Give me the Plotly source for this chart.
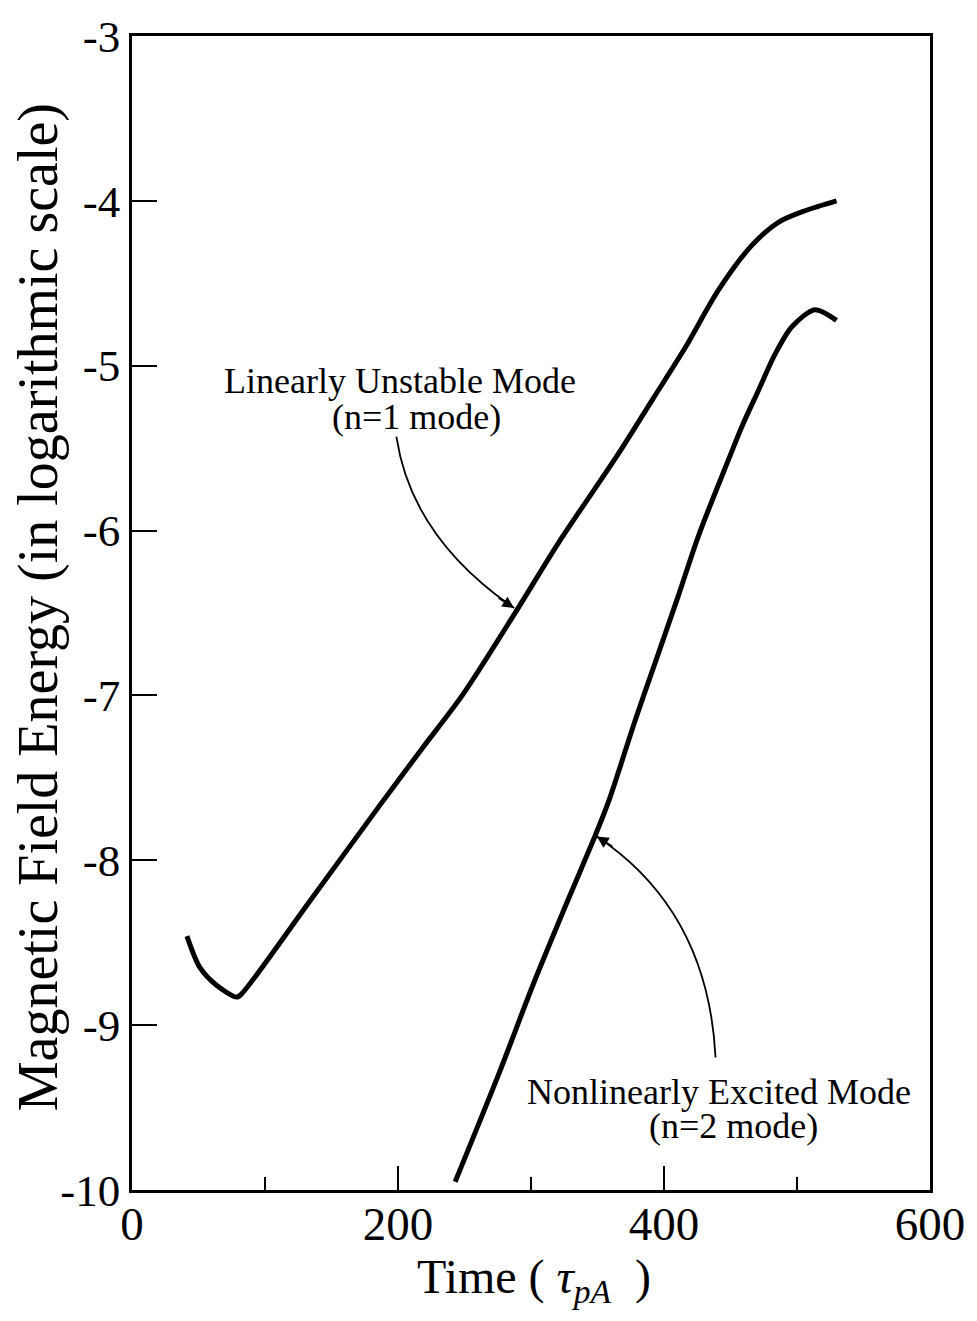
import plotly.graph_objects as go

# Linearly unstable mode (n=1)
time_n1 = [41.3, 51.0, 63.8, 78.8, 82.5, 133.5, 186.0, 218.3, 248.3, 288.8, 321.0,
           366.0, 391.0, 416.0, 441.0, 466.0, 486.0, 506.0, 529.7]
energy_n1 = [-8.46, -8.65, -8.76, -8.83, -8.81, -8.25, -7.67, -7.32, -7.00, -6.49, -6.07,
             -5.53, -5.21, -4.89, -4.54, -4.27, -4.13, -4.06, -4.00]

# Nonlinearly excited mode (n=2)
time_n2 = [243.0, 276.1, 300.8, 326.3, 348.8, 358.5, 378.8, 396.0, 411.0, 426.0,
           448.5, 458.5, 471.0, 483.5, 496.0, 513.5, 529.7]
energy_n2 = [-9.95, -9.29, -8.77, -8.27, -7.84, -7.64, -7.14, -6.74, -6.39, -6.03,
             -5.57, -5.37, -5.15, -4.93, -4.765, -4.66, -4.725]

x_ticks = [0, 200, 400, 600]
y_ticks = [-3, -4, -5, -6, -7, -8, -9, -10]

FONT = "Liberation Serif"

fig = go.Figure()
for xs, ys in ((time_n1, energy_n1), (time_n2, energy_n2)):
    fig.add_trace(go.Scatter(x=xs, y=ys, mode="lines",
                             line=dict(color="black", width=5, shape="spline", smoothing=0.8),
                             showlegend=False, hoverinfo="skip"))

# curved leader lines
fig.add_shape(type="path", xref="x", yref="y",
              path="M 198.8,-5.43 Q 210,-6.04 287.3,-6.47",
              line=dict(color="black", width=1.8))
fig.add_shape(type="path", xref="x", yref="y",
              path="M 438.75,-9.196 Q 433.2,-8.305 349.5,-7.855",
              line=dict(color="black", width=1.8))

# arrow heads
fig.add_annotation(x=287.3, y=-6.47, ax=-17, ay=-11, text="", showarrow=True,
                   arrowhead=2, arrowsize=1.3, arrowwidth=1.8, arrowcolor="black", standoff=0)
fig.add_annotation(x=349.5, y=-7.855, ax=17, ay=11, text="", showarrow=True,
                   arrowhead=2, arrowsize=1.3, arrowwidth=1.8, arrowcolor="black", standoff=0)

lab = dict(family=FONT, size=36, color="black")
fig.add_annotation(x=201.8, y=-5.095, text="Linearly Unstable Mode", showarrow=False, font=lab)
fig.add_annotation(x=213.8, y=-5.31, text="(n=1 mode)", showarrow=False, font=lab)
fig.add_annotation(x=441.0, y=-9.407, text="Nonlinearly Excited Mode", showarrow=False, font=lab)
fig.add_annotation(x=452.3, y=-9.61, text="(n=2 mode)", showarrow=False, font=lab)

# axis titles
fig.add_annotation(xref="paper", yref="paper", x=0.504, y=0, yshift=-90,
                   xanchor="center", yanchor="middle",
                   text="Time (&nbsp;<i>τ</i><sub><i>pA</i></sub>&nbsp;&nbsp;)", showarrow=False,
                   font=dict(family=FONT, size=48, color="black"))
fig.add_annotation(xref="paper", yref="paper", x=0, y=0.505, xshift=-94, textangle=-90,
                   xanchor="center", yanchor="middle",
                   text="Magnetic Field Energy (in logarithmic scale)", showarrow=False,
                   font=dict(family=FONT, size=56, color="black"))

fig.update_xaxes(range=[0, 600], tickvals=x_ticks, ticktext=[str(v) for v in x_ticks],
                 ticks="inside", ticklen=24, tickwidth=1.5, tickcolor="black",
                 minor=dict(dtick=100, tick0=0, ticks="inside", ticklen=13, tickwidth=1.5, tickcolor="black"),
                 showline=True, linecolor="black", linewidth=2.5, mirror=True,
                 showgrid=False, zeroline=False, ticklabelstandoff=-9,
                 tickfont=dict(family=FONT, size=47, color="black"))
fig.update_yaxes(range=[-10, -3], tickvals=y_ticks, ticktext=[str(v) for v in y_ticks],
                 ticks="inside", ticklen=25, tickwidth=1.5, tickcolor="black",
                 showline=True, linecolor="black", linewidth=2.5, mirror=True,
                 showgrid=False, zeroline=False,
                 tickfont=dict(family=FONT, size=45, color="black"))

fig.update_layout(width=977, height=1321, margin=dict(l=132, r=45, t=31, b=131),
                  plot_bgcolor="white", paper_bgcolor="white", showlegend=False)

fig.write_html("out.html")
